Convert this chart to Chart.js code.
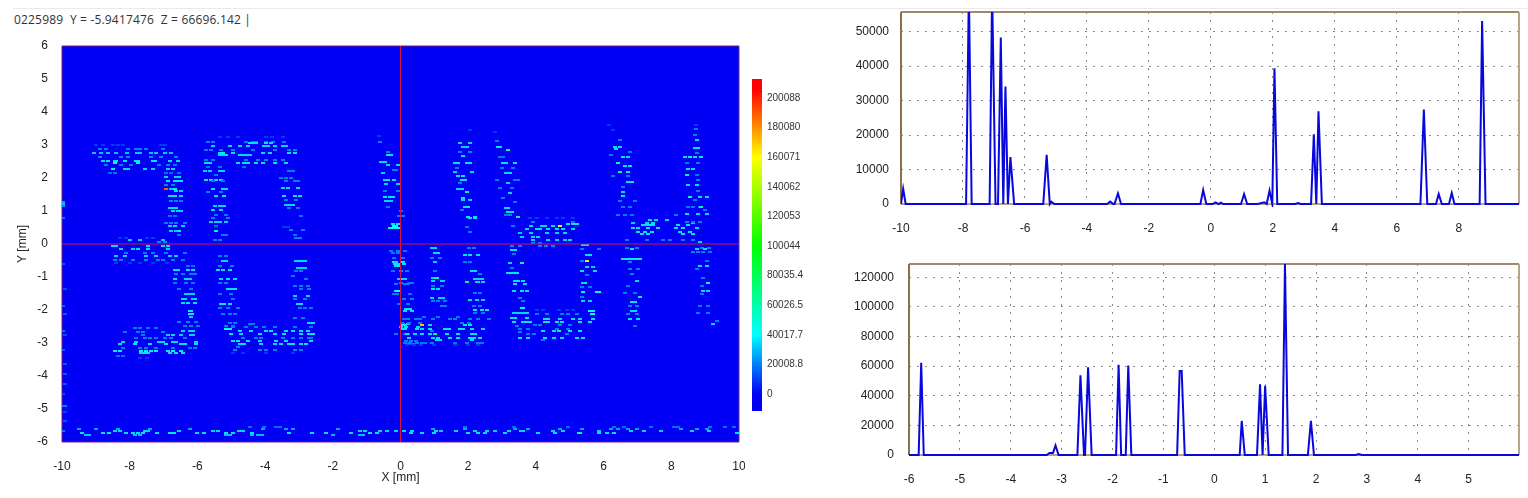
<!DOCTYPE html>
<html>
<head>
<meta charset="utf-8">
<title>XY map</title>
<script src="https://cdn.jsdelivr.net/npm/chart.js@4"></script>
<style>
  html, body { margin: 0; padding: 0; background: #fff; overflow: hidden; }
  #page { position: relative; width: 1528px; height: 498px; }
  #page canvas { position: absolute; filter: blur(0.4px); }
  #rule { position: absolute; left: 13px; right: 0; top: 8px; height: 1px; background: #eaeaea; }
  #readout { position: absolute; left: 14px; top: 11px; font: 12px "Open Sans", sans-serif; letter-spacing: 0.18px; color: #333; white-space: pre; }
</style>
</head>
<body>
<div id="page">
  <div id="rule"></div>
  <div id="readout">0225989  Y = -5.9417476  Z = 66696.142 |</div>
  <canvas id="mapChart" width="745" height="498" style="left:0;top:0"></canvas>
  <canvas id="barChart" width="75" height="498" style="left:745px;top:0"></canvas>
  <canvas id="topChart" width="688" height="250" style="left:840px;top:0"></canvas>
  <canvas id="bottomChart" width="688" height="248" style="left:840px;top:250px"></canvas>
</div>
<script>
// ---- data ----
const mapXTicks = [-10, -8, -6, -4, -2, 0, 2, 4, 6, 8, 10];
const mapYTicks = [-6, -5, -4, -3, -2, -1, 0, 1, 2, 3, 4, 5, 6];
const barTicks = [0, 20008.8, 40017.7, 60026.5, 80035.4, 100044, 120053, 140062, 160071, 180080, 200088];
const barTickLabels = ['0', '20008.8', '40017.7', '60026.5', '80035.4', '100044', '120053', '140062', '160071', '180080', '200088'];
const barRange = [-11500, 212900];
const colorStopValues = [0, 40017, 100044, 160071, 206000];
const colorStopColors = [[0, 0, 244], [0, 255, 255], [0, 255, 0], [255, 255, 0], [255, 0, 0]];

const topXTicks = [-10, -8, -6, -4, -2, 0, 2, 4, 6, 8];
const topYTicks = [0, 10000, 20000, 30000, 40000, 50000];
const topX = [-10, -9.93, -9.85, -7.9, -7.81, -7.72, -7.14, -7.06, -6.95, -6.87, -6.78, -6.7, -6.63, -6.55, -6.47, -6.42, -6.35, -5.41, -5.3, -5.2, -5.15, -5.05, -3.35, -3.25, -3.15, -3.11, -3, -2.9, -0.34, -0.25, -0.15, 0.05, 0.15, 0.25, 0.32, 0.4, 0.97, 1.07, 1.17, 1.5, 1.6, 1.72, 1.8, 1.89, 1.98, 2.05, 2.14, 2.72, 2.81, 2.9, 3.23, 3.32, 3.4, 3.47, 3.58, 6.76, 6.87, 6.98, 7.26, 7.35, 7.45, 7.68, 7.77, 7.86, 8.67, 8.75, 8.86, 9.94];
const topZ = [0, 4400, 0, 0, 62000, 0, 0, 62000, 0, 0, 48300, 0, 34100, 0, 13600, 8000, 0, 0, 14300, 0, 700, 0, 0, 700, 0, 0, 3100, 0, 0, 4050, 0, 0, 500, 0, 400, 0, 0, 2900, 0, 0, 200, 500, 0, 3900, 0, 39400, 0, 0, 300, 0, 0, 20200, 0, 26900, 0, 0, 27400, 0, 0, 2900, 0, 0, 3200, 0, 0, 53100, 0, 0];

const bottomXTicks = [-6, -5, -4, -3, -2, -1, 0, 1, 2, 3, 4, 5];
const bottomYTicks = [0, 20000, 40000, 60000, 80000, 100000, 120000];
const bottomX = [-6, -5.81, -5.76, -5.71, -3.29, -3.24, -3.17, -3.12, -3.06, -2.69, -2.63, -2.56, -2.54, -2.48, -2.41, -1.93, -1.88, -1.83, -1.74, -1.69, -1.63, -0.73, -0.68, -0.64, -0.58, 0.5, 0.54, 0.6, 0.84, 0.9, 0.95, 1, 1.07, 1.34, 1.39, 1.45, 1.84, 1.9, 1.96, 2.78, 2.84, 2.9, 5.99];
const bottomZ = [0, 0, 62300, 0, 0, 1300, 1300, 6500, 0, 0, 53800, 0, 0, 59200, 0, 0, 61000, 0, 0, 60500, 0, 0, 56700, 56700, 0, 0, 23000, 0, 0, 47700, 0, 46800, 0, 0, 129000, 0, 0, 23000, 0, 0, 700, 0, 0];

// each row: [y, z, [x, x, ...]]
const edgeCells = [
  [1.28, 26000, [-9.96]], [1.22, 30000, [-9.96]], [1.16, 22000, [-9.96]], [0.78, 18000, [-9.96]],
  [-0.6, 14000, [-9.96]], [-1.35, 12000, [-9.92]], [-1.88, 16000, [-9.96]], [-2.13, 14000, [-9.92]],
  [-2.64, 18000, [-9.96]], [-2.76, 12000, [-9.92]], [-3.2, 16000, [-9.96]], [-3.65, 14000, [-9.92]],
  [-3.95, 14000, [-9.92]], [-4.25, 14000, [-9.92]], [-4.55, 12000, [-9.96]], [-4.9, 20000, [-9.96, -9.92]],
  [-5.1, 10000, [-9.92]], [-5.36, 14000, [-9.92]], [-5.67, 20000, [-9.96]]
];
const bandCells = [
  [-5.55, 18000, [-4.46, -4.02, -3.67, -3.57, 1.9, 3.34, 4.96, 6.3, 6.6, 7.4, 8.07, 8.2, 9.14, 9.6, 9.85]],
  [-5.6, 26000, [-9.5, -8.99, -8.35, -7.41, -6.23, -4.06, -3.38, -3.18, -1.85, 0.95, 1.9, 3.39, 3.78, 4.71, 5.35, 6.23, 6.43, 6.73, 7.0, 8.3, 8.75, 9.05]],
  [-5.66, 34000, [-8.44, -8.3, -7.56, -7.46, -6.54, -5.54, -5.4, -4.76, -4.66, -1.2, -1.06, -0.6, -0.4, -0.13, 0.1, 0.35, 1.05, 1.2, 1.65, 2.2, 2.55, 2.8, 3.2, 3.55, 3.63, 4.5, 4.8, 5.85, 6.8, 7.2, 7.7, 8.6, 9.1]],
  [-5.73, 36000, [-9.4, -8.8, -8.6, -8.1, -7.9, -7.76, -7.61, -7.2, -6.8, -6.7, -6.0, -5.8, -5.15, -4.95, -4.4, -3.3, -2.6, -2.2, -1.45, -0.9, -0.7, 0.3, 0.64, 1.0, 2.0, 2.3, 2.5, 3.1, 4.07, 4.55, 5.3, 5.85, 6.1, 6.3, 9.94]],
  [-5.73, 62000, [5.26]],
  [-5.78, 30000, [-9.3, -9.2, -7.85, -7.7, -5.15, -5.05, -4.4, -4.2, -4.1, -2.0, -1.1, -1.2]]
];
const threeCells = [
  [3, 9000, [-8.99, -8.79, -8.49, -8.35, -8.2, -7.07, -6.97]],
  [2.88, 20000, [-8.89, -8.69, -8.05, -7.8, -7.71, -7.51, -7.02]],
  [2.76, 32000, [-9.04, -8.84, -8.64, -8.4, -8.08, -7.79, -7.71, -7.36, -7.21, -6.97, -6.77]],
  [2.64, 22000, [-8.89, -8.25, -8.05, -7.36, -7.07, -6.62]],
  [2.52, 36000, [-8.79, -8.64, -8.44, -8.4, -8.15, -7.8, -7.76, -7.31, -7.26, -6.82, -6.57]],
  [2.46, 60000, [-7.76]], [2.46, 40000, [-8.44]],
  [2.4, 20000, [-8.69, -8.25, -7.95, -7.12, -6.87, -6.67]],
  [2.28, 34000, [-8.15, -8.05, -7.56, -7.31, -6.87, -6.72]], [2.28, 56000, [-8.49]],
  [2.16, 18000, [-8.59, -8.44, -6.92, -6.77, -6.53]],
  [2.04, 34000, [-6.92, -6.62, -6.53]],
  [1.92, 36000, [-6.87, -6.67, -6.57, -6.48]],
  [1.8, 20000, [-6.92, -6.72]],
  [1.68, 190000, [-6.92]], [1.68, 60000, [-6.67]], [1.68, 32000, [-6.77]],
  [1.6, 34000, [-6.62, -6.48]],
  [1.45, 36000, [-6.82, -6.72, -6.67, -6.48]],
  [1.3, 20000, [-6.77, -6.62, -6.48]],
  [1.1, 34000, [-6.82, -6.72, -6.62]],
  [1, 34000, [-6.72, -6.57, -6.48]],
  [0.85, 18000, [-6.82, -6.67]],
  [0.65, 20000, [-6.92, -6.77, -6.62, -6.38]],
  [0.55, 34000, [-6.82, -6.67, -6.43]],
  [0.4, 32000, [-6.77, -6.62]], [0.4, 60000, [-6.53]],
  [0.28, 18000, [-6.53]], [0.18, 9000, [-8.3, -8.1, -7.5, -7.3]],
  [0.12, 32000, [-8, -7.71, -7.02]], [0.06, 22000, [-7.12, -6.97]],
  [-0.06, 34000, [-8.49, -8.4, -7.46, -7.02, -6.87]],
  [-0.16, 34000, [-8.25, -7.9, -7.76, -7.46, -6.87]],
  [-0.26, 20000, [-8.1, -7.56, -7.31, -6.92, -6.38]],
  [-0.36, 34000, [-8.4, -8.15, -7.51, -7.21, -6.82, -6.62]],
  [-0.48, 20000, [-8.44, -8.25, -7.9, -7.51, -7.17, -7.02, -6.72, -6.43]],
  [-0.58, 9000, [-8.4, -8, -7.7, -7.3, -6.9]],
  [-0.67, 18000, [-6.28, -6.13]],
  [-0.8, 36000, [-6.67, -6.57, -6.28, -6.13]],
  [-0.92, 20000, [-6.62, -6.43, -6.18, -6.08]],
  [-1.07, 34000, [-6.67, -6.33, -6.28, -6.23]],
  [-1.17, 20000, [-6.67, -6.33, -6.13]],
  [-1.35, 20000, [-6.53, -6.18]],
  [-1.52, 34000, [-6.33, -6.23, -6.13]],
  [-1.68, 34000, [-6.43, -6.38, -6.13, -6.08]],
  [-1.8, 36000, [-6.43, -6.28, -6.08]],
  [-2.03, 38000, [-6.23, -6.18]], [-2.13, 38000, [-6.23, -6.16]], [-2.2, 34000, [-6.18]],
  [-2.36, 20000, [-6.53, -6.28, -6.03]],
  [-2.48, 20000, [-6.38, -6.18, -5.98]],
  [-2.56, 20000, [-7.85, -7.71, -7.46, -7.21]],
  [-2.64, 34000, [-6.43, -6.23, -6.13]],
  [-2.67, 20000, [-8.15, -7.76, -7.61, -7.02]],
  [-2.76, 34000, [-6.87, -6.72, -6.48, -6.18, -6.13]], [-2.76, 20000, [-7.61]],
  [-2.86, 20000, [-7.8, -7.56, -7.41, -7.21, -6.97, -6.77, -6.38]],
  [-2.96, 34000, [-8.2, -7.8, -7.12, -7.02, -6.72, -6.62, -6.03]],
  [-3.04, 36000, [-8.3, -7.85, -7.41, -6.92, -6.48, -6.38, -6.03]],
  [-3.14, 20000, [-8.2, -7.71, -7.51, -7.21, -6.72, -6.23, -6.08]],
  [-3.24, 38000, [-8.44, -8.3, -7.66, -7.51, -7.36, -7.21, -6.87, -6.72, -6.48]],
  [-3.3, 36000, [-7.66, -7.56, -7.46, -6.82, -6.62, -6.43]],
  [-3.4, 18000, [-8.35, -8.2]], [-3.46, 9000, [-7.71, -7.5]]
];
const zeroCells = [
  [3.25, 9000, [-3.47, -5.34, -5.1, -4.8, -3.97, -3.8]],
  [3.1, 20000, [-5.69, -5.54, -4.56, -4.36, -4.26, -3.97, -3.77, -3.43]],
  [3.05, 36000, [-4.46, -4.36, -4.26, -3.97, -3.82]],
  [2.96, 34000, [-5.54, -5.05, -4.75, -4.51, -4.02, -3.92, -3.72, -3.47, -3.38]],
  [2.85, 20000, [-5.74, -5.59, -5.3, -4.95, -4.36, -3.72, -3.28, -3.13]],
  [2.75, 36000, [-5.34, -4.95, -4.06, -3.87, -3.28, -3.13]], [2.75, 60000, [-5.25]],
  [2.7, 34000, [-5.34, -5.25, -5.15, -4.75, -4.66, -4.56, -4.46]],
  [2.55, 20000, [-5.74, -5.54, -4.56, -4.21, -3.97, -3.72, -3.47]],
  [2.45, 36000, [-5.74, -5.64, -4.8, -4.61, -4.51, -4.26, -4.06, -3.72, -3.38]],
  [2.33, 18000, [-5.69, -5.34, -4.61]],
  [2.2, 34000, [-5.79, -5.64, -5.34, -5.25]], [2.2, 20000, [-3.18, -3.28]],
  [2.1, 20000, [-5.44]],
  [2, 20000, [-3.52, -3.38, -3.23]],
  [1.95, 36000, [-5.74, -5.59, -5.44, -5.3]],
  [1.9, 20000, [-5.54, -5.25, -3.38, -3.13, -3.03]],
  [1.7, 34000, [-3.47, -3.33, -3.03]],
  [1.67, 36000, [-5.54, -5.25, -5.15]],
  [1.57, 20000, [-5.69, -5.3]],
  [1.44, 36000, [-5.44, -5.2, -3.43, -3.13, -2.98]],
  [1.34, 20000, [-3.38, -3.08]],
  [1.19, 34000, [-3.38, -3.28, -3.18]],
  [1.14, 34000, [-5.49, -5.34, -5.2]],
  [1.09, 20000, [-3.28, -3.03]],
  [1.02, 34000, [-5.54, -5.3]],
  [0.89, 20000, [-5.44, -5.15]],
  [0.84, 20000, [-2.93]],
  [0.79, 20000, [-5.54, -5.1]],
  [0.66, 34000, [-5.59, -5.44, -5.34, -5.15]],
  [0.54, 18000, [-5.44]], [0.53, 9000, [-3.43, -3.33]],
  [0.41, 20000, [-3.23, -2.88]],
  [0.38, 62000, [-5.44]],
  [0.28, 20000, [-5.25, -5.15, -3.13]],
  [0.18, 20000, [-3.08, -2.98]], [0.13, 20000, [-5.49, -5.34]],
  [-0.36, 20000, [-5.34, -5.15]],
  [-0.51, 34000, [-5.25, -5.15, -3.03, -2.93, -3.08, -2.83]],
  [-0.67, 20000, [-5.34, -4.99]],
  [-0.72, 34000, [-3.03, -2.93, -2.83]],
  [-0.79, 36000, [-5.39, -5.25, -5.05]],
  [-0.82, 20000, [-3.08, -2.93]],
  [-0.97, 20000, [-3.18]],
  [-1.05, 36000, [-5.3, -5.1, -4.9]],
  [-1.07, 20000, [-2.79]],
  [-1.17, 20000, [-5.34, -5.15]],
  [-1.27, 20000, [-3.13, -2.93, -2.74]],
  [-1.37, 36000, [-5.1, -5, -4.9]], [-1.37, 20000, [-2.93, -2.69]],
  [-1.52, 20000, [-5.34, -5]],
  [-1.58, 34000, [-3.13, -2.74]],
  [-1.66, 20000, [-4.95]], [-1.68, 20000, [-3.13, -2.83]],
  [-1.83, 36000, [-5.3, -5.2, -5.05, -3.03, -2.93]],
  [-1.93, 20000, [-5.34, -5.1, -4.8, -2.98, -2.83, -2.64]],
  [-2.13, 20000, [-5.25, -5.05, -4.9]],
  [-2.23, 20000, [-3.13, -2.88]],
  [-2.38, 20000, [-5.05, -4.9]], [-2.38, 60000, [-2.64]], [-2.38, 34000, [-2.69, -2.59]],
  [-2.43, 20000, [-4.46, -4.36]],
  [-2.48, 20000, [-5.15, -4.95]],
  [-2.5, 20000, [-4.95, -4.56, -4.26, -4.02, -3.72, -3.13, -2.64]],
  [-2.59, 42000, [-5.15, -5.05]],
  [-2.63, 36000, [-4.75, -4.41, -3.97, -3.82, -3.38, -3.18, -2.93, -2.74]],
  [-2.73, 36000, [-5, -4.7, -4.16, -3.72, -3.43, -2.93, -2.69, -2.59]],
  [-2.84, 20000, [-4.66, -4.26, -4.11, -3.47, -3.18, -2.93, -2.69, -2.64]],
  [-2.94, 36000, [-4.95, -4.8, -4.51, -4.16, -3.67, -3.38, -2.64]],
  [-3.04, 36000, [-4.75, -4.61, -4.11, -3.72, -3.52, -3.28, -3.18, -2.93, -2.79]],
  [-3.11, 20000, [-4.8]],
  [-3.2, 20000, [-4.9, -4.16, -3.97, -3.72, -3.13, -2.93]],
  [-3.3, 9000, [-4.95, -4.66, -3.97, -3.18]]
];
const leftStrokeCells = [
  [3.28, 9000, [-0.64]], [3.1, 20000, [-0.62]], [2.8, 20000, [-0.37]],
  [2.7, 36000, [-0.37, -0.28]], [2.48, 34000, [-0.57, -0.47]],
  [2.4, 34000, [-0.37, -0.08]], [2.25, 20000, [-0.18, -0.13]], [2.15, 34000, [-0.52]],
  [1.95, 36000, [-0.47, -0.37, -0.18]], [1.83, 34000, [-0.42, -0.08]], [1.6, 20000, [-0.47, -0.08]],
  [1.43, 36000, [-0.47, -0.32, -0.23]], [1.3, 34000, [-0.42, -0.37, -0.28]], [1.12, 20000, [-0.37]],
  [1, 20000, [0.02]], [0.84, 20000, [-0.03, 0.07]], [0.6, 36000, [-0.23, -0.08]],
  [0.55, 48000, [-0.18, -0.13]], [0.5, 42000, [-0.32, -0.18, -0.08]],
  [-0.2, 20000, [-0.28, -0.08, 0.12]], [-0.41, 20000, [-0.18, 0.07]],
  [-0.56, 36000, [-0.18, -0.13, 0.07]], [-0.67, 36000, [-0.13, -0.03]], [-0.82, 20000, [-0.23, 0.02]],
  [-1.07, 34000, [-0.03, 0.12]], [-1.22, 20000, [-0.13, 0.12, 0.22]], [-1.42, 36000, [-0.13, -0.03]],
  [-1.52, 20000, [-0.18]], [-1.83, 20000, [-0.03, 0.22]], [-1.98, 36000, [0.17, 0.27]],
  [-2.28, 20000, [0.12, 0.22, 0.46]], [-2.43, 34000, [0.07, 0.22]], [-2.53, 34000, [0.02, 0.17, 0.51]],
  [-2.74, 20000, [-0.13, 0.12, 0.22]], [-2.94, 20000, [0.17, 0.31, 0.46]], [-3.04, 20000, [0.22, 0.36]]
];
const uCells = [
  // inner stroke below the crosshair
  [-0.26, 20000, [-0.21, -0.06]], [-0.6, 36000, [-0.16, -0.06, 0.09]], [-0.82, 20000, [0.19]],
  [-1.07, 34000, [0, 0.14]], [-1.17, 20000, [0, 0.24, 0.33]], [-1.42, 40000, [-0.11, -0.06]],
  [-1.52, 20000, [-0.11, 0.29]], [-1.68, 20000, [0.09, 0.33]], [-1.98, 36000, [0.19, 0.29]], [-2.03, 36000, [0.14, 0.33]],
  // stroke near x = 1
  [-0.12, 34000, [0.93, 1.02]], [-0.28, 36000, [1.02, 1.12]], [-0.41, 20000, [0.93, 1.17]],
  [-0.55, 34000, [1.02]], [-0.82, 20000, [1.02]], [-1.02, 34000, [0.97]], [-1.02, 62000, [1.07]],
  [-1.12, 34000, [0.97, 1.22, 1.27]], [-1.27, 20000, [0.97, 1.22]], [-1.37, 36000, [0.97, 1.12]],
  [-1.63, 34000, [0.93, 1.17, 1.27]], [-1.73, 20000, [0.97, 1.12, 1.32]], [-1.88, 20000, [1.22, 1.32]],
  // stroke near x = 2
  [-0.12, 20000, [2.01, 2.16]], [-0.32, 36000, [1.91, 2.06, 2.3]], [-0.55, 20000, [1.91, 2.06]],
  [-0.82, 36000, [2.11, 2.2]], [-0.92, 20000, [2.35]], [-1.07, 34000, [2.2, 2.3, 2.4]],
  [-1.15, 34000, [2.25, 2.3, 2.45]], [-1.15, 62000, [1.96]], [-1.47, 20000, [2.2, 2.35]],
  [-1.7, 34000, [2.06, 2.25, 2.45]], [-1.88, 20000, [2.16, 2.35]], [-2.01, 36000, [2.2, 2.4, 2.55]],
  [-2.1, 20000, [2.2, 2.45]], [-2.26, 20000, [2.06, 2.3, 2.6]],
  // bottom bar
  [-2.2, 20000, [0.68, 1.12, 1.71]],
  [-2.28, 20000, [0.09, 0.58, 0.97, 1.47, 1.61]],
  [-2.38, 20000, [0.04, 0.24, 0.58, 1.81, 2.01]],
  [-2.46, 36000, [0.04, 0.14, 0.88, 1.91, 2.06]], [-2.46, 170000, [0.63]],
  [-2.57, 36000, [0.04, 0.14, 0.48, 0.63, 0.88, 1.32, 1.42, 1.86, 2.11, 2.45]], [-2.57, 62000, [1.76]],
  [-2.64, 20000, [0.93]],
  [-2.74, 36000, [0.19, 0.43, 0.63, 0.88, 1.37, 1.71, 2.11, 2.2]], [-2.74, 66000, [1.02]],
  [-2.84, 36000, [0.24, 0.97, 1.12, 1.47, 1.71, 2.06, 2.16, 2.35]],
  [-2.9, 34000, [1.07, 1.17, 2.11]],
  [-2.99, 20000, [0.14, 0.29, 0.48, 0.63, 0.73, 0.93, 1.61, 1.96, 2.3, 2.4]],
  [-3.06, 9000, [0.2, 0.4, 0.6, 1.0, 1.6, 2.0, 2.3]],
  // upper strokes
  [3.46, 9000, [2.05]], [3.07, 34000, [1.76, 2.05]], [2.95, 34000, [1.86, 1.95]], [2.8, 20000, [1.76, 2.05]],
  [2.67, 36000, [1.86]], [2.44, 36000, [1.61, 1.71, 1.95, 2.05]], [2.29, 20000, [1.66]],
  [2.19, 34000, [1.61, 2.1]], [2.06, 36000, [1.71, 1.86]], [1.94, 36000, [1.81, 1.9]], [1.84, 20000, [1.76]],
  [1.66, 34000, [1.71, 1.81]], [1.58, 62000, [1.95]], [1.38, 36000, [1.86]], [1.33, 34000, [1.86, 2.05]],
  [1.11, 36000, [1.9, 2]], [1.03, 20000, [1.81]], [0.83, 36000, [2, 2.2]], [0.78, 36000, [2.05, 2.2]],
  [0.52, 20000, [1.95]], [0.37, 20000, [2.05]],
  [3.4, 9000, [2.79]], [3.13, 20000, [2.86]], [2.95, 36000, [2.89, 2.94]], [2.85, 60000, [3.18]],
  [2.65, 20000, [2.94, 3.04]], [2.44, 36000, [3.04, 3.13, 3.38]], [2.29, 20000, [2.99, 3.33]],
  [2.16, 34000, [3.13, 3.23]], [1.94, 20000, [2.84, 3.38, 3.48]], [1.84, 34000, [3.18]],
  [1.69, 20000, [2.94, 3.28]], [1.54, 34000, [3.23]], [1.38, 20000, [3.04]], [1.28, 20000, [3.38]],
  [1.08, 36000, [3.13, 3.18]], [0.98, 36000, [3.18, 3.28]], [0.88, 20000, [3.13, 3.23]],
  [0.83, 56000, [3.48]], [0.55, 20000, [3.33]], [0.32, 20000, [3.53]]
];
const dCells = [
  // top bar
  [0.78, 9000, [3.82, 4.02, 4.32, 4.61, 4.81, 5.1]],
  [0.68, 20000, [3.92, 5.1]],
  [0.6, 36000, [4.96, 5.1, 5.2]],
  [0.55, 34000, [3.87, 4.17, 4.27, 4.51]], [0.55, 150000, [4.71]],
  [0.44, 34000, [3.73, 4.02, 4.12, 4.36, 4.61, 4.81, 5.1]],
  [0.32, 34000, [3.53, 3.87, 4.32, 4.61, 4.86]],
  [0.22, 34000, [3.58, 3.92, 4.07]],
  [0.12, 34000, [3.92, 4.36, 4.61, 4.86, 5]],
  [0.04, 20000, [3.92, 4.12]],
  [-0.06, 20000, [3.29, 3.53, 4.12, 4.3, 4.5]],
  // left stroke
  [-0.18, 36000, [3.29, 3.39]], [-0.31, 20000, [3.34]], [-0.58, 34000, [3.24]], [-0.58, 60000, [3.58]],
  [-0.72, 20000, [3.29]], [-0.87, 36000, [3.19, 3.24, 3.29, 3.34, 3.44]], [-1.12, 36000, [3.39, 3.48, 3.63]],
  [-1.22, 36000, [3.39, 3.68]], [-1.42, 36000, [3.34, 3.58, 3.73]], [-1.63, 20000, [3.53]], [-1.73, 20000, [3.63]],
  [-1.93, 62000, [3.58]], [-1.93, 40000, [3.63]],
  [-2.08, 34000, [3.34, 3.44, 3.53, 3.63, 3.73]], [-2.23, 36000, [3.29, 3.39, 3.73]],
  [-2.36, 36000, [3.34, 3.63, 3.73, 3.83]], [-2.48, 20000, [3.44]], [-2.68, 20000, [3.53]],
  // bottom bar
  [-2, 9000, [4.03, 4.22, 4.67, 4.91, 5.11]],
  [-2.13, 20000, [4.03, 4.32, 4.76, 4.96, 5.21]],
  [-2.26, 36000, [4.27, 4.37, 4.71, 5.11, 5.31]],
  [-2.36, 36000, [4.27, 4.37, 4.62, 4.76, 5.31, 5.6]],
  [-2.46, 20000, [3.98, 4.12, 4.71, 5.01]],
  [-2.59, 20000, [3.53, 3.78, 4.62, 4.96]],
  [-2.64, 36000, [4.22, 4.52, 5.01, 5.31]], [-2.64, 70000, [4.67]],
  [-2.74, 20000, [3.78, 3.93, 4.91]],
  [-2.84, 36000, [3.53, 3.78, 4.27, 4.52, 4.76, 5.21, 5.4]],
  [-2.91, 20000, [4.22]],
  // right stroke
  [-0.04, 36000, [5.4, 5.5]], [-0.16, 20000, [5.35, 5.85]], [-0.34, 36000, [5.5, 5.55, 5.6]],
  [-0.52, 150000, [5.5]], [-0.52, 20000, [5.35]], [-0.7, 34000, [5.5, 5.7]], [-0.82, 36000, [5.35, 5.75]],
  [-0.95, 20000, [5.5]], [-1.17, 66000, [5.45]], [-1.17, 34000, [5.4]], [-1.29, 20000, [5.35, 5.6]],
  [-1.45, 40000, [5.8, 5.85, 5.4]], [-1.6, 20000, [5.35]], [-1.73, 34000, [5.4, 5.6]],
  [-2.03, 44000, [5.6, 5.7]], [-2.13, 40000, [5.65, 5.7]], [-2.28, 36000, [5.7]]
];
const hCells = [
  // left stroke, upper part
  [3.6, 9000, [6.17]], [3.45, 9000, [6.28]], [3.15, 20000, [6.48]], [2.95, 36000, [6.33, 6.48]],
  [2.87, 36000, [6.38]], [2.8, 20000, [6.78]], [2.7, 20000, [6.23]], [2.63, 36000, [6.58, 6.73]],
  [2.44, 62000, [6.43]], [2.36, 36000, [6.63, 6.78]], [2.19, 60000, [6.48]], [2.19, 36000, [6.73]],
  [2.06, 20000, [6.28, 6.73]], [1.89, 36000, [6.73, 6.83]], [1.74, 20000, [6.58]],
  [1.59, 36000, [6.58]], [1.44, 36000, [6.58]], [1.29, 20000, [6.48, 6.92]], [1.13, 20000, [6.58, 6.78]],
  [0.88, 20000, [6.43, 6.63, 6.83]],
  // bar
  [0.88, 20000, [8.15]],
  [0.73, 34000, [7.37, 7.56, 7.86]],
  [0.65, 34000, [6.88, 7.27, 7.47, 8.65]],
  [0.58, 36000, [7.17, 7.27, 7.37, 7.47, 8.2, 8.5]],
  [0.47, 36000, [6.88, 7.02, 7.32, 7.61, 8.15, 8.35, 8.75]],
  [0.37, 36000, [7.02, 7.22, 7.42, 8.25, 8.55]],
  [0.3, 36000, [7.12, 7.32, 8.35, 8.65]],
  [0.12, 20000, [6.68, 7.27, 7.76, 7.96, 8.35, 8.65]],
  [0.06, 34000, [8.84]],
  // right stroke, upper part
  [3.6, 9000, [8.73]], [3.5, 20000, [8.73]], [3.3, 20000, [8.7]], [3.15, 36000, [8.75]],
  [2.9, 36000, [8.7, 8.79]], [2.75, 20000, [8.75]], [2.63, 36000, [8.4, 8.7, 8.89]], [2.63, 62000, [8.55]],
  [2.45, 20000, [8.45, 8.79]], [2.26, 36000, [8.5, 8.65]], [2.09, 60000, [8.47]], [2.09, 20000, [8.75]],
  [1.94, 20000, [8.79]], [1.79, 36000, [8.5, 8.75]], [1.62, 20000, [8.79]],
  [1.43, 62000, [8.55]], [1.43, 36000, [8.84, 9.04]], [1.33, 20000, [8.7]],
  [1.13, 20000, [8.5, 8.65, 8.84]], [1.13, 62000, [8.89]], [1.03, 20000, [8.99]],
  [0.91, 36000, [8.45, 8.79, 9.04]], [0.68, 20000, [8.45, 8.65, 8.84]],
  // left stroke, lower part
  [-0.11, 20000, [6.68, 6.98]], [-0.16, 36000, [6.83]], [-0.44, 36000, [6.58, 6.68, 6.78, 6.88, 6.98, 7.08]],
  [-0.44, 66000, [6.98]], [-0.55, 20000, [6.78]], [-0.77, 20000, [6.78, 7.03]], [-0.9, 20000, [6.83]],
  [-1.12, 36000, [6.98]], [-1.27, 20000, [6.73]], [-1.47, 20000, [6.63, 6.93]], [-1.6, 62000, [7.08]],
  [-1.76, 36000, [6.83, 6.93]], [-1.88, 20000, [6.78, 6.98]], [-2.03, 36000, [6.83, 6.93]],
  [-2.13, 20000, [6.73, 6.98]], [-2.28, 36000, [6.78, 7.03]], [-2.48, 20000, [6.93]],
  // right stroke, lower part
  [-0.11, 20000, [8.9, 9.1]], [-0.16, 36000, [8.75, 9]], [-0.24, 20000, [8.65, 8.8, 8.95, 9.14]],
  [-0.52, 20000, [9.05]], [-0.67, 36000, [8.85, 9.05]], [-0.77, 20000, [8.75]], [-1.02, 20000, [8.95]],
  [-1.17, 62000, [9.09]], [-1.27, 20000, [8.9]], [-1.42, 36000, [8.95, 9.09]], [-1.52, 20000, [8.9]],
  [-1.88, 20000, [8.85, 9.09]], [-2.08, 20000, [8.8, 9.09]], [-2.33, 20000, [9.34]], [-2.43, 34000, [9.24]]
];

// ---- helpers ----
const fontFamily = '"Liberation Sans", Arial, sans-serif';

function zColor(z) {
  if (z <= colorStopValues[0]) return colorStopColors[0];
  for (let i = 1; i < colorStopValues.length; i++) {
    if (z <= colorStopValues[i]) {
      const t = (z - colorStopValues[i - 1]) / (colorStopValues[i] - colorStopValues[i - 1]);
      return colorStopColors[i].map((c, k) => Math.round(colorStopColors[i - 1][k] + (c - colorStopColors[i - 1][k]) * t));
    }
  }
  return colorStopColors[colorStopColors.length - 1];
}

// a cell is wider than tall, so the marker is a small canvas
const sprites = {};
function cellSprite(z) {
  if (!sprites[z]) {
    const c = document.createElement('canvas');
    c.width = 4;
    c.height = 2;
    const g = c.getContext('2d');
    g.fillStyle = 'rgb(' + zColor(z).join(',') + ')';
    g.fillRect(0, 0, 4, 2);
    sprites[z] = c;
  }
  return sprites[z];
}

function rowsToPoints(rows) {
  const out = [];
  rows.forEach(r => r[2].forEach(x => out.push({ x: x, y: r[0], z: r[1] })));
  return out;
}

function useTicks(values) {
  return scale => { scale.ticks = values.map(v => ({ value: v })); };
}

// no extra room for the first and last tick labels, the plot box is fixed
function fixX(height) {
  return s => { s.height = height; s.paddingLeft = 0; s.paddingRight = 0; };
}
function fixY(width) {
  return s => { s.width = width; s.paddingTop = 0; s.paddingBottom = 0; };
}

// plot background and border, background under the marks, border before the profile line
const framePlugin = {
  id: 'frame',
  beforeDatasetsDraw(chart, args, opts) {
    const a = chart.chartArea;
    const c = chart.ctx;
    c.save();
    if (opts.fill) {
      c.fillStyle = opts.fill;
      c.fillRect(a.left, a.top, a.width, a.height);
    }
    if (opts.sides) {
      c.lineWidth = opts.width;
      const seg = (col, x0, y0, x1, y1) => {
        c.strokeStyle = col;
        c.beginPath();
        c.moveTo(x0, y0);
        c.lineTo(x1, y1);
        c.stroke();
      };
      seg(opts.sides[0], a.left, a.top, a.right, a.top);
      seg(opts.sides[1], a.left, a.top, a.left, a.bottom);
      seg(opts.sides[2], a.right, a.top, a.right, a.bottom);
      seg(opts.sides[3], a.left, a.bottom, a.right, a.bottom);
    }
    c.restore();
  }
};
Chart.register(framePlugin);

Chart.defaults.font.family = fontFamily;
Chart.defaults.font.size = 12;
Chart.defaults.color = '#222';
Chart.defaults.animation = false;
Chart.defaults.responsive = false;
Chart.defaults.plugins.legend.display = false;
Chart.defaults.plugins.tooltip.enabled = false;

// ---- map ----
const allCells = rowsToPoints([].concat(edgeCells, bandCells, threeCells, zeroCells, leftStrokeCells, uCells, dCells, hCells));

new Chart(document.getElementById('mapChart'), {
  type: 'scatter',
  data: {
    datasets: [
      {
        data: allCells,
        pointStyle: ctx => cellSprite(ctx.raw.z),
        pointRadius: 2,
        order: 2
      },
      {
        type: 'line',
        data: [{ x: mapXTicks[0], y: 0 }, { x: mapXTicks[mapXTicks.length - 1], y: 0 }],
        borderColor: '#d81040',
        borderWidth: 1,
        pointRadius: 0,
        order: 1
      },
      {
        type: 'line',
        data: [{ x: 0, y: mapYTicks[0] }, { x: 0, y: mapYTicks[mapYTicks.length - 1] }],
        borderColor: '#d81040',
        borderWidth: 1,
        pointRadius: 0,
        order: 1
      }
    ]
  },
  options: {
    layout: { padding: { top: 46, right: 6, left: 0, bottom: 0 } },
    plugins: { frame: { fill: '#0000f4', sides: ['#7a1a80', '#7a1a80', '#5a3a9a', '#7a1a80'], width: 1 } },
    scales: {
      x: {
        type: 'linear', min: -10, max: 10,
        afterBuildTicks: useTicks(mapXTicks),
        afterFit: fixX(56),
        grid: { display: false, drawTicks: false },
        border: { display: false },
        ticks: { padding: 17, maxRotation: 0, autoSkip: false, callback: v => String(v) },
        title: { display: true, text: 'X [mm]', font: { size: 12, weight: '500' }, padding: { top: 0, bottom: 13 } }
      },
      y: {
        type: 'linear', min: -6, max: 6,
        afterBuildTicks: useTicks(mapYTicks),
        afterFit: fixY(62),
        grid: { display: false, drawTicks: false },
        border: { display: false },
        ticks: { padding: 14, autoSkip: false, callback: v => String(v) },
        title: { display: true, text: 'Y [mm]', font: { size: 12, weight: '500' }, padding: { top: 15, bottom: 0 } }
      }
    }
  }
});

// ---- colour bar ----
new Chart(document.getElementById('barChart'), {
  type: 'bar',
  data: {
    labels: ['z'],
    datasets: [{
      data: [barRange],
      barPercentage: 1,
      categoryPercentage: 1,
      backgroundColor: ctx => {
        const { chart } = ctx;
        if (!chart.chartArea) return '#0000f4';
        const s = chart.scales.y;
        const g = chart.ctx.createLinearGradient(0, s.getPixelForValue(barRange[0]), 0, s.getPixelForValue(barRange[1]));
        const span = barRange[1] - barRange[0];
        g.addColorStop(0, 'rgb(' + colorStopColors[0].join(',') + ')');
        colorStopValues.forEach((v, i) => {
          g.addColorStop((v - barRange[0]) / span, 'rgb(' + colorStopColors[i].join(',') + ')');
        });
        g.addColorStop(1, 'rgb(' + colorStopColors[colorStopColors.length - 1].join(',') + ')');
        return g;
      }
    }]
  },
  options: {
    layout: { padding: { top: 79, bottom: 87, left: 7, right: 0 } },
    scales: {
      x: { display: false },
      y: {
        type: 'linear', position: 'right', min: barRange[0], max: barRange[1],
        afterBuildTicks: useTicks(barTicks),
        afterFit: fixY(58),
        grid: { display: false, drawTicks: false },
        border: { display: false },
        ticks: {
          padding: 5, autoSkip: false, color: '#333', font: { size: 10 },
          callback: (v, i) => barTickLabels[i]
        }
      }
    }
  }
});

// ---- profiles ----
function profileChart(id, xs, zs, xTicks, yTicks, xRange, yMax, box) {
  return new Chart(document.getElementById(id), {
    type: 'line',
    data: {
      datasets: [{
        data: xs.map((x, i) => ({ x: x, y: zs[i] })),
        borderColor: '#0808dc',
        borderWidth: 2,
        pointRadius: 0,
        tension: 0,
        clip: { left: 0, top: 0, right: 0, bottom: 3 }
      }]
    },
    options: {
      layout: { padding: { top: box.top, right: 9, left: 0, bottom: 0 } },
      plugins: { frame: { sides: ['#a08a6a', '#8a6f4c', '#b8a488', '#b8a488'], width: 2 } },
      scales: {
        x: {
          type: 'linear', min: xRange[0], max: xRange[1],
          afterBuildTicks: useTicks(xTicks),
          afterFit: fixX(box.xHeight),
          grid: { color: '#8a8a8a', drawTicks: false },
          border: { display: false, dash: [2, 6] },
          ticks: { padding: 17, maxRotation: 0, autoSkip: false, callback: v => String(v) }
        },
        y: {
          type: 'linear', min: 0, max: yMax,
          afterBuildTicks: useTicks(yTicks),
          afterFit: fixY(box.yWidth),
          grid: { color: '#8a8a8a', drawTicks: false },
          border: { display: false, dash: [2, 6] },
          ticks: { padding: box.yPad, autoSkip: false, callback: v => String(v) }
        }
      }
    }
  });
}

profileChart('topChart', topX, topZ, topXTicks, topYTicks, [-10, 9.94], 55700,
  { top: 12, xHeight: 46, yWidth: 61, yPad: 12 });
profileChart('bottomChart', bottomX, bottomZ, bottomXTicks, bottomYTicks, [-6, 5.99], 129000,
  { top: 14, xHeight: 43, yWidth: 69, yPad: 15 });
</script>
</body>
</html>
